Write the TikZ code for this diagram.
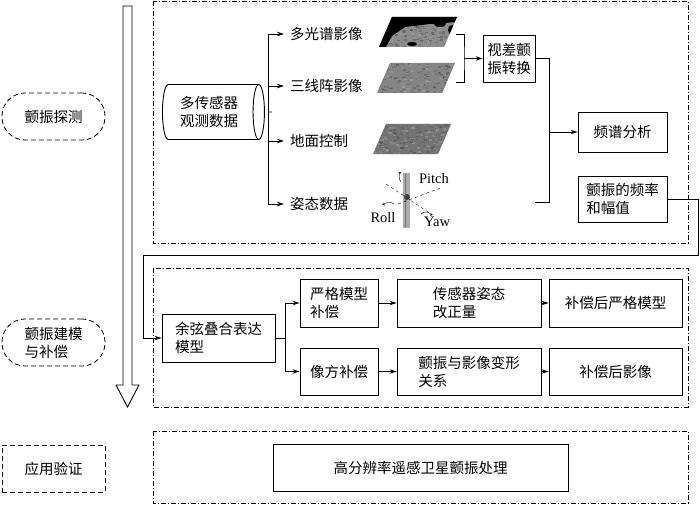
\documentclass[tikz,border=0pt]{standalone}
\usepackage{fontspec}
\setmainfont{Liberation Serif}
\newfontfamily\cjkfont{Noto Sans CJK SC}
\usetikzlibrary{arrows.meta,shapes.geometric}
\newcommand{\platepath}[2]
{  (#1+13,#2) -- (#1+78,#2) -- (#1+65,#2+30) -- (#1,#2+30) -- cycle
}
\newcommand{\imgplate}[3]
{  \begin{scope}
   \clip \platepath{#1}{#2};
   \fill[#3] (#1-5,#2-5) rectangle (#1+85,#2+35);
   \foreach \k in {1,...,260}
   {  \pgfmathsetmacro{\px}{#1+80*rnd} \pgfmathsetmacro{\py}{#2+32*rnd}
      \pgfmathtruncatemacro{\pg}{35+35*rnd}
      \fill[black!\pg, opacity=0.6] (\px,\py) rectangle ++(3,1.6);
   }
   \end{scope}
}
\newcommand{\cjksize}{\fontsize{14.5}{18}\selectfont}
\tikzset{
  box/.style={draw, line width=0.9pt, font=\cjkfont\cjksize, inner sep=3pt},
  tag/.style={draw, dash pattern=on 5pt off 3pt, line width=0.8pt, rounded corners=23pt,
    minimum width=103pt, minimum height=47pt, font=\cjkfont\cjksize},
  lbl/.style={font=\cjkfont\cjksize, anchor=west, inner xsep=6pt},
  frame/.style={draw, line width=0.8pt, dash pattern=on 5pt off 2pt on 1pt off 2pt},
  arr/.style={-{Stealth[length=7pt,width=4.5pt]}},
  link/.style={line width=0.9pt}
}
\begin{document}
\begin{tikzpicture}[x=1pt,y=-1pt]
 \useasboundingbox (0,0) rectangle (700,505);
 \pgfmathsetseed{42}

 \draw[frame] (153,1) rectangle (688,243);
 \draw[frame] (153,268) rectangle (688,407);
 \draw[frame] (153,431) rectangle (688,503);

 \draw[line width=0.9pt] (123,6) -- (132,6) -- (132,385) -- (139,385) -- (127.5,407)
   -- (116,385) -- (123,385) -- cycle;

 \node[tag] (czts) at (53.5,116.5) {颤振探测};
 \node[tag, align=left] (czjm) at (53.5,342.5) {颤振建模\\与补偿};
 \node[tag, rounded corners=0pt] (yyyz) at (53.5,468.5) {应用验证};

 \node[cylinder, draw, line width=0.9pt, aspect=0.3, minimum width=55pt, minimum height=102pt,
   font=\cjkfont\cjksize, align=center] (cyl) at (209,112) {多传感器\\观测数据};

 \node[lbl] (dgp) at (284,34) {多光谱影像};
 \node[lbl] (sxz) at (284,86) {三线阵影像};
 \node[lbl] (dmkz) at (284,141) {地面控制};
 \node[lbl] (ztsj) at (284,204) {姿态数据};

 \imgplate{379}{17}{black!45}
 \begin{scope}
  \clip \platepath{379}{17};
  \fill[black] (385,17) -- (458,17) -- (458,22) -- (430,24) -- (405,27) -- (392,36) -- (386,47) -- (378,47) -- cycle;
  \fill[black] (440,24) ellipse (6pt and 3pt);
  \fill[black] (412,44) ellipse (5pt and 2pt);
  \fill[black] (452,30) ellipse (4pt and 5pt);
 \end{scope}
 \imgplate{377}{63}{black!48}
 \imgplate{373}{124}{black!55}

 \fill[gray!65] (403,173) rectangle (410,228);
 \draw[black!55, line width=0.6pt] (405.5,174) -- (405.5,227);
 \draw[dashed, thin] (386,184) -- (428,212);
 \draw[dashed, thin] (398,204) -- (443,187);
 \fill[black!75] (407,197) circle (3pt);
 \draw[thin, -{Stealth[length=3pt]}] (394,204) arc (20:200:5pt and 2.5pt);
 \draw[thin, -{Stealth[length=3pt]}] (421,214) arc (160:-20:5pt and 3pt);
 \draw[thin, -{Stealth[length=3pt]}] (401,182) arc (250:100:2.5pt and 5pt);
 \node (pitch) at (434,179) {\fontsize{14.5}{16}\selectfont Pitch};
 \node (roll) at (383,218) {\fontsize{14.5}{16}\selectfont Roll};
 \node (yaw) at (437,222) {\fontsize{14.5}{16}\selectfont Yaw};

 \node[box, minimum width=52pt, minimum height=47pt, align=center] (scz) at (509,58.5) {视差颤\\振转换};
 \node[box, minimum width=89pt, minimum height=40pt] (ppfx) at (622.5,132) {频谱分析};
 \node[box, minimum width=89pt, minimum height=46pt, align=left] (czpl) at (622.5,199) {颤振的频率\\和幅值};

 \node[box, minimum width=113pt, minimum height=48pt, align=left] (yxdh) at (218.5,338) {余弦叠合表达\\模型};
 \node[box, minimum width=78pt, minimum height=48pt, align=left] (ygmx) at (339,303) {严格模型\\补偿};
 \node[box, minimum width=78pt, minimum height=47pt] (xfbc) at (339,371.5) {像方补偿};
 \node[box, minimum width=144pt, minimum height=48pt, align=left] (cgqz) at (469,303) {传感器姿态\\改正量};
 \node[box, minimum width=144pt, minimum height=47pt, align=left] (czyx) at (469,371.5) {颤振与影像变形\\关系};
 \node[box, minimum width=133pt, minimum height=48pt] (bcmx) at (615.5,303) {补偿后严格模型};
 \node[box, minimum width=133pt, minimum height=47pt] (bcyx) at (615.5,371.5) {补偿后影像};

 \node[box, minimum width=295pt, minimum height=47pt] (gfcl) at (420.5,467.5) {高分辨率遥感卫星颤振处理};

 \coordinate (j1) at (268,112);
 \draw[link, shorten <=7pt] (cyl.east) -- (j1);
 \draw[link,arr] (j1) |- (dgp.west);
 \draw[link,arr] (j1) |- (sxz.west);
 \draw[link,arr] (j1) |- (dmkz.west);
 \draw[link,arr] (j1) |- (ztsj.west);

 \coordinate (b1) at (456,34);
 \coordinate (b2) at (456,82);
 \coordinate (j2) at (464,58.5);
 \draw[link] (b1) -| (j2) |- (b2);
 \draw[link,arr] (j2) -- (scz.west);

 \coordinate (zt) at (535,202);
 \coordinate (j3) at (549,132);
 \draw[link] (scz.east) -| (j3) |- (zt);
 \draw[link,arr] (j3) -- (ppfx.west);

 \coordinate (r1) at (698,255);
 \coordinate (r2) at (143,255);
 \draw[link,arr] (czpl.east) -| (r1) -- (r2) |- (yxdh.west);

 \coordinate (j4) at (285,338);
 \draw[link] (yxdh.east) -- (j4);
 \draw[link,arr] (j4) |- (ygmx.west);
 \draw[link,arr] (j4) |- (xfbc.west);
 \draw[link,arr] (ygmx) -- (cgqz);
 \draw[link,arr] (cgqz) -- (bcmx);
 \draw[link,arr] (xfbc) -- (czyx);
 \draw[link,arr] (czyx) -- (bcyx);

\end{tikzpicture}
\end{document}
